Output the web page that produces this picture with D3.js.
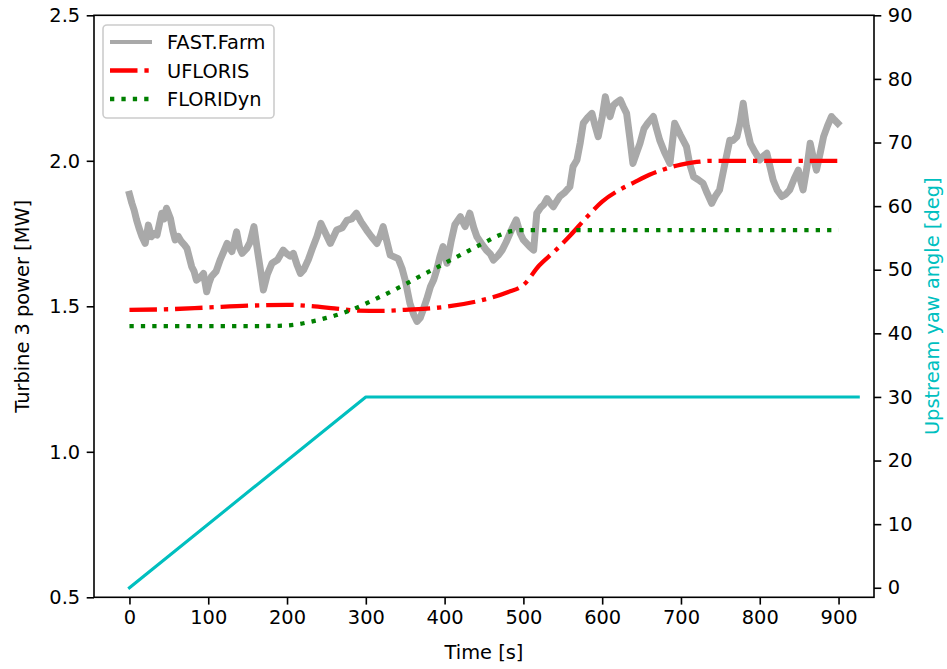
<!DOCTYPE html>
<html>
<head>
<meta charset="utf-8">
<script src="https://cdn.jsdelivr.net/npm/d3@7"></script>
<style>
  html, body { margin: 0; padding: 0; background: #fff; }
  svg { display: block; font-family: "DejaVu Sans", sans-serif; }
</style>
</head>
<body>
<svg id="chart" width="947" height="669"></svg>
<script>
// Time axis ticks and the two y-axis tick sets
const xTicks = [0, 100, 200, 300, 400, 500, 600, 700, 800, 900];
const powerTicks = [0.5, 1.0, 1.5, 2.0, 2.5];
const yawTicks = [0, 10, 20, 30, 40, 50, 60, 70, 80, 90];

// FAST.Farm turbine 3 power [MW]
const fastTime = [0, 3, 6, 9, 12, 16, 20, 24, 28, 31, 35, 41, 44, 47, 52, 55, 58, 62, 66, 70, 73, 79, 82, 85, 90, 94, 98, 101, 104, 110, 115,
  120, 124, 130, 136, 140, 143, 149, 153, 158, 162, 166, 170, 175, 181, 188, 195, 200, 204, 208, 213, 217, 221, 227, 233, 238, 243, 249, 255, 263, 270, 276, 282, 288,
  294, 301, 307, 314, 318, 322, 327, 331, 336, 341, 346, 350, 356, 361, 365, 369, 373, 377, 382, 386, 390, 394, 398, 403, 408, 413, 420, 426, 432, 437, 441,
  447, 453, 458, 462, 468, 473, 478, 483, 487, 491, 496, 500, 508, 513, 517, 522, 526, 530, 534, 538, 542, 546, 552, 559, 563, 568, 572, 576, 582, 587, 591, 595, 600, 604, 607, 610,
  614, 618, 623, 627, 631, 635, 639, 644, 648, 653, 658, 665, 669, 673, 679, 686, 689, 692, 699, 707, 711, 716, 722, 728, 733, 739, 744, 749, 755, 762, 766, 771, 775, 779, 783, 788, 794, 800, 804, 809,
  813, 817, 822, 828, 833, 838, 844, 849, 852, 855, 860, 864, 868, 872, 877, 881, 886, 891, 895, 899];
const fastPower = [1.885, 1.855, 1.83, 1.797, 1.77, 1.739, 1.716, 1.779, 1.739, 1.75, 1.745, 1.82, 1.8, 1.837, 1.802, 1.76, 1.728, 1.74, 1.722, 1.71, 1.699, 1.636, 1.62, 1.59, 1.6, 1.613, 1.55, 1.58, 1.602, 1.62, 1.659,
  1.69, 1.716, 1.688, 1.756, 1.7, 1.682, 1.699, 1.72, 1.774, 1.7, 1.63, 1.556, 1.61, 1.648, 1.66, 1.693, 1.68, 1.672, 1.682, 1.64, 1.613, 1.625, 1.66, 1.705, 1.74, 1.785, 1.75, 1.716, 1.762, 1.77, 1.795, 1.8, 1.82,
  1.79, 1.762, 1.74, 1.716, 1.74, 1.774, 1.72, 1.676, 1.67, 1.664, 1.63, 1.59, 1.51, 1.47, 1.448, 1.46, 1.49, 1.522, 1.567, 1.59, 1.625, 1.67, 1.705, 1.648, 1.72, 1.78, 1.808, 1.774, 1.82, 1.77, 1.739,
  1.715, 1.693, 1.68, 1.659, 1.675, 1.693, 1.72, 1.751, 1.775, 1.797, 1.75, 1.728, 1.705, 1.693, 1.82, 1.84, 1.85, 1.87, 1.855, 1.842, 1.86, 1.877, 1.89, 1.911, 1.98, 2.003, 2.06, 2.129, 2.15, 2.163, 2.12, 2.083, 2.15, 2.22, 2.18, 2.152,
  2.19, 2.2, 2.209, 2.185, 2.163, 2.08, 1.991, 2.03, 2.06, 2.11, 2.13, 2.152, 2.11, 2.071, 2.03, 1.991, 2.06, 2.129, 2.09, 2.049, 1.99, 1.945, 1.935, 1.923, 1.89, 1.854, 1.88, 1.9, 1.98, 2.071, 2.07, 2.083, 2.13, 2.198, 2.12, 2.06, 2.03, 2.003, 2.015, 2.026,
  1.98, 1.934, 1.9, 1.877, 1.885, 1.9, 1.94, 1.968, 1.93, 1.9, 1.98, 2.06, 2.01, 1.968, 2.03, 2.083, 2.12, 2.152, 2.14, 2.129];

// UFLORIS prediction [MW]
const uflorisTime = [0, 50, 100, 150, 200, 230, 260, 290, 320, 350, 400, 450, 480, 500, 520, 540, 560, 580, 600,
  620, 640, 660, 680, 700, 720, 740, 900];
const uflorisPower = [1.488, 1.49, 1.496, 1.502, 1.505, 1.501, 1.493, 1.485, 1.484, 1.488, 1.498, 1.523, 1.548, 1.573, 1.64, 1.69, 1.745, 1.805, 1.86,
  1.897, 1.925, 1.952, 1.972, 1.987, 1.996, 2.0, 2.0];

// FLORIDyn prediction [MW]
const floridynTime = [0, 50, 100, 150, 190, 210, 230, 250, 270, 290, 310, 330, 350, 370, 390, 410, 430, 450, 470, 485, 500, 900];
const floridynPower = [1.432, 1.432, 1.432, 1.432, 1.433, 1.437, 1.447, 1.46, 1.476, 1.497, 1.522, 1.548, 1.576, 1.605, 1.633, 1.662, 1.69, 1.718, 1.745, 1.758, 1.762, 1.762];

// Upstream turbine yaw angle [deg]
const yawTime = [0, 300, 925];
const yawAngle = [0, 30, 30];

const legendLabels = ["FAST.Farm", "UFLORIS", "FLORIDyn"];

const FONT = 19.4;
const svg = d3.select("#chart");
const box = { left: 94, right: 874, top: 15.3, bottom: 597.3 };

const x = d3.scaleLinear().domain([-45, 945]).range([box.left, box.right]);
const yP = d3.scaleLinear().domain([0.5, 2.5]).range([box.bottom, box.top]);
const yY = d3.scaleLinear().domain([-1.5, 90]).range([box.bottom, box.top]);

svg.append("clipPath").attr("id", "plotClip")
  .append("rect").attr("x", box.left).attr("y", box.top)
  .attr("width", box.right - box.left).attr("height", box.bottom - box.top);

const lw = 4.3;
const series = [
  { t: fastTime, v: fastPower, color: "#a9a9a9", width: 7, dash: null, scale: yP, curve: d3.curveLinear },
  { t: uflorisTime, v: uflorisPower, color: "#ff0000", width: lw, dash: [27.5, 6.9, lw, 6.9], scale: yP, curve: d3.curveMonotoneX },
  { t: floridynTime, v: floridynPower, color: "#008000", width: lw, dash: [lw, 7.1], scale: yP, curve: d3.curveMonotoneX },
  { t: yawTime, v: yawAngle, color: "#00bfbf", width: 3.1, dash: null, scale: yY, curve: d3.curveLinear }
];

const plot = svg.append("g").attr("clip-path", "url(#plotClip)");
series.forEach(s => {
  const pts = s.t.map((t, i) => [t, s.v[i]]);
  const line = d3.line().x(d => x(d[0])).y(d => s.scale(d[1])).curve(s.curve);
  plot.append("path").datum(pts)
    .attr("d", line)
    .attr("fill", "none")
    .attr("stroke", s.color)
    .attr("stroke-width", s.width)
    .attr("stroke-linejoin", "round")
    .attr("stroke-linecap", s.dash ? "butt" : "square")
    .attr("stroke-dasharray", s.dash ? s.dash.join(",") : null);
});

// Axes
function styleAxis(g) {
  g.selectAll("path.domain").remove();
  g.selectAll(".tick line").attr("stroke", "#000").attr("stroke-width", 1.6);
  g.selectAll(".tick text").attr("font-family", "DejaVu Sans").attr("font-size", FONT).attr("fill", "#000");
}

svg.append("g").attr("transform", `translate(0,${box.bottom})`)
  .call(d3.axisBottom(x).tickValues(xTicks).tickFormat(d3.format("d")).tickSize(7.3).tickPadding(6))
  .call(styleAxis)
  .selectAll(".tick text").attr("dy", "0.71em");

svg.append("g").attr("transform", `translate(${box.left},0)`)
  .call(d3.axisLeft(yP).tickValues(powerTicks).tickFormat(d3.format(".1f")).tickSize(7.3).tickPadding(6.5))
  .call(styleAxis);

svg.append("g").attr("transform", `translate(${box.right},0)`)
  .call(d3.axisRight(yY).tickValues(yawTicks).tickFormat(d3.format("d")).tickSize(7.3).tickPadding(6.5))
  .call(styleAxis);

// Frame
svg.append("rect")
  .attr("x", box.left).attr("y", box.top)
  .attr("width", box.right - box.left).attr("height", box.bottom - box.top)
  .attr("fill", "none").attr("stroke", "#000").attr("stroke-width", 1.6);

// Axis titles
svg.append("text").attr("x", (box.left + box.right) / 2).attr("y", 659)
  .attr("text-anchor", "middle").attr("font-size", FONT).attr("fill", "#000")
  .text("Time [s]");

svg.append("text")
  .attr("transform", `translate(28.5,${(box.top + box.bottom) / 2}) rotate(-90)`)
  .attr("text-anchor", "middle").attr("font-size", FONT).attr("fill", "#000")
  .text("Turbine 3 power [MW]");

svg.append("text")
  .attr("transform", `translate(939,${(box.top + box.bottom) / 2}) rotate(-90)`)
  .attr("text-anchor", "middle").attr("font-size", FONT).attr("fill", "#00bfbf")
  .text("Upstream yaw angle [deg]");

// Legend
const leg = svg.append("g");
leg.append("rect")
  .attr("x", 103).attr("y", 25).attr("width", 171).attr("height", 93)
  .attr("rx", 4).attr("ry", 4)
  .attr("fill", "#fff").attr("fill-opacity", 0.8)
  .attr("stroke", "#cccccc").attr("stroke-width", 1.6);
legendLabels.forEach((label, i) => {
  const s = series[i];
  const cy = 42 + i * 28.5;
  leg.append("line")
    .attr("x1", 110).attr("x2", 152).attr("y1", cy).attr("y2", cy)
    .attr("stroke", s.color)
    .attr("stroke-width", i === 0 ? 4.2 : s.width)
    .attr("stroke-dasharray", s.dash ? s.dash.join(",") : null);
  leg.append("text")
    .attr("x", 167).attr("y", cy + 7)
    .attr("font-size", FONT).attr("fill", "#000")
    .text(label);
});
</script>
</body>
</html>
